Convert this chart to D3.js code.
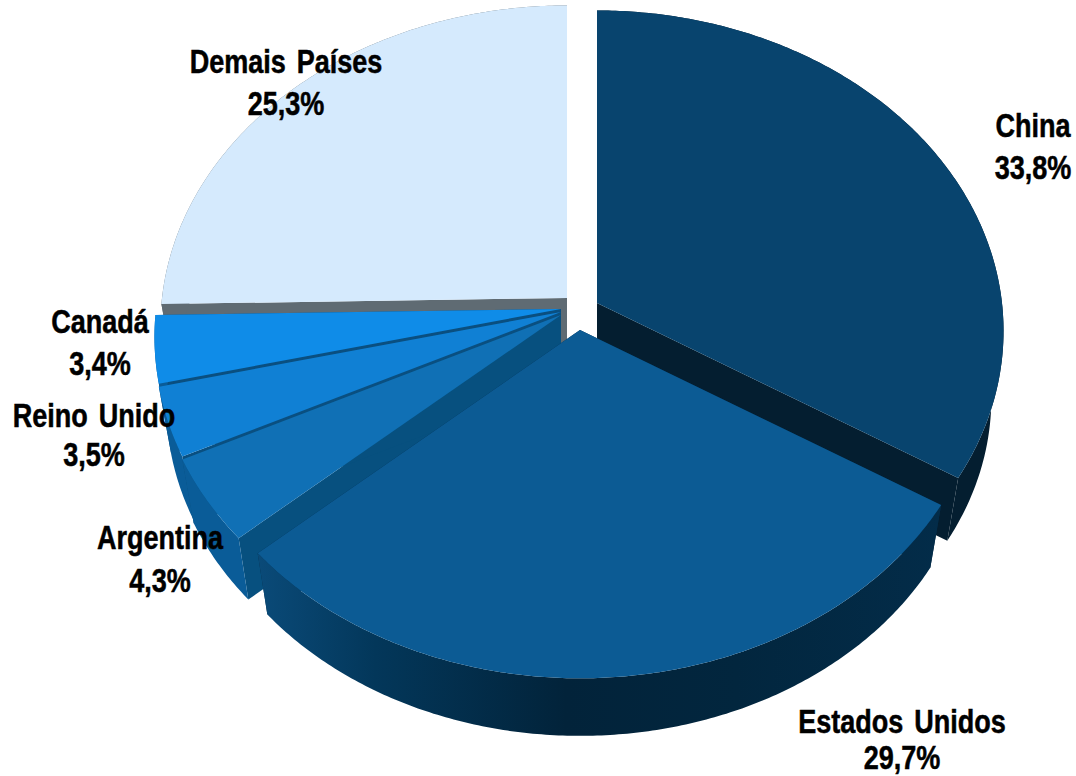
<!doctype html>
<html>
  <head>
    <meta charset="utf-8">
    <script src="https://cdn.jsdelivr.net/npm/d3@7"></script>
    <style>
      body { margin: 0; background: #fff; }
      svg { display: block; }
      text {
        font-family: "Liberation Sans", sans-serif;
        font-weight: bold;
        font-size: 33px;
        word-spacing: 4px;
        fill: #000;
        stroke: #000;
        stroke-width: 0.5px;
      }
    </style>
  </head>
  <body>
    <svg id="chart"></svg>
    <script>
    const countries = ["China", "Estados Unidos", "Argentina", "Reino Unido", "Canadá", "Demais Países"]
    const shares = [33.8, 29.7, 4.3, 3.5, 3.4, 25.3]

    // layout, same order as countries
    const centerX = [597, 580, 561, 561, 561, 567]
    const centerY = [303, 330, 315, 312, 309, 298]
    const topColors = ["#08446e", "#0c5b94", "#1070b5", "#1080d4", "#0f8ce8", "#d5eafd"]
    const wallColors = ["#041e30", "#032a45", "#0a5c98", "#0a5c98", "#0a5c98", "#5f6b73"]
    const cutColors = ["#041e30", "#032a45", "#07507f", "#0a4f80", "#0a4f80", "#5f6b73"]
    const labelX = [1033, 902, 160, 94, 100, 286]
    const labelY = [[137, 179], [733, 769], [549, 592], [427, 466], [333, 375], [73, 115]]
    const drawOrder = [5, 0, 4, 3, 2, 1]

    const width = 1076, height = 776
    const tilt = 0.087        // perspective strength
    const depth = 68          // height of the pie wall
    const floorScale = 0.97   // the bottom disc looks a bit smaller
    const textSqueeze = 0.82  // labels are a condensed bold

    const x = d3.scaleLinear().domain([-1, 1]).range([-405, 405])
    const y = d3.scaleLinear().domain([-1, 1]).range([-318, 318])

    const svg = d3.select("#chart").attr("width", width).attr("height", height)

    const defs = svg.append("defs")
    const wallGrad = defs.append("linearGradient")
      .attr("id", "usWall")
      .attr("gradientUnits", "userSpaceOnUse")
      .attr("x1", 260).attr("x2", 940).attr("y1", 0).attr("y2", 0)
    wallGrad.selectAll("stop")
      .data([[0, "#0a4a78"], [0.17, "#03375a"], [0.45, "#02233a"], [0.7, "#02263e"], [1, "#032c49"]])
      .enter().append("stop")
      .attr("offset", d => d[0])
      .attr("stop-color", d => d[1])

    const pie = d3.pie().sort(null).value(d => d)
    const arcs = pie(shares)

    // point on the disc of slice i, angle clockwise from 12 o'clock
    function project(i, angle, r, floor) {
      const u = r * Math.sin(angle)
      const v = -r * Math.cos(angle)
      const s = 1 / (1 - tilt * v) * (floor ? floorScale : 1)
      return [
        centerX[i] + x(u) * s,
        centerY[i] + y(v) * s + (floor ? depth : 0)
      ]
    }

    function rim(i, a0, a1, floor) {
      const n = Math.max(2, Math.ceil((a1 - a0) / 0.01))
      return d3.range(n + 1).map(k => project(i, a0 + (a1 - a0) * k / n, 1, floor))
    }

    const line = d3.line()
    const closed = pts => line(pts) + "Z"

    drawOrder.forEach(i => {
      const a = arcs[i]
      const g = svg.append("g").attr("class", "slice")
      const apex = project(i, 0, 0, false)
      const apexFloor = project(i, 0, 0, true)

      // cut walls
      ;[a.startAngle, a.endAngle].forEach(angle => {
        g.append("path")
          .attr("fill", cutColors[i])
          .attr("d", closed([apex, project(i, angle, 1, false), project(i, angle, 1, true), apexFloor]))
      })

      // outer wall
      g.append("path")
        .attr("fill", i === 1 ? "url(#usWall)" : wallColors[i])
        .attr("d", closed(rim(i, a.startAngle, a.endAngle, false)
          .concat(rim(i, a.startAngle, a.endAngle, true).reverse())))

      // top face
      g.append("path")
        .attr("fill", topColors[i])
        .attr("d", closed([apex].concat(rim(i, a.startAngle, a.endAngle, false))))
    })

    const labels = svg.append("g").attr("class", "labels")
    countries.forEach((name, i) => {
      const t = labels.append("text")
        .attr("text-anchor", "middle")
        .attr("transform", "translate(" + labelX[i] + ",0) scale(" + textSqueeze + ",1)")
      t.append("tspan").attr("x", 0).attr("y", labelY[i][0]).text(name)
      t.append("tspan").attr("x", 0).attr("y", labelY[i][1])
        .text(d3.format(".1f")(shares[i]).replace(".", ",") + "%")
    })
    </script>
  </body>
</html>
